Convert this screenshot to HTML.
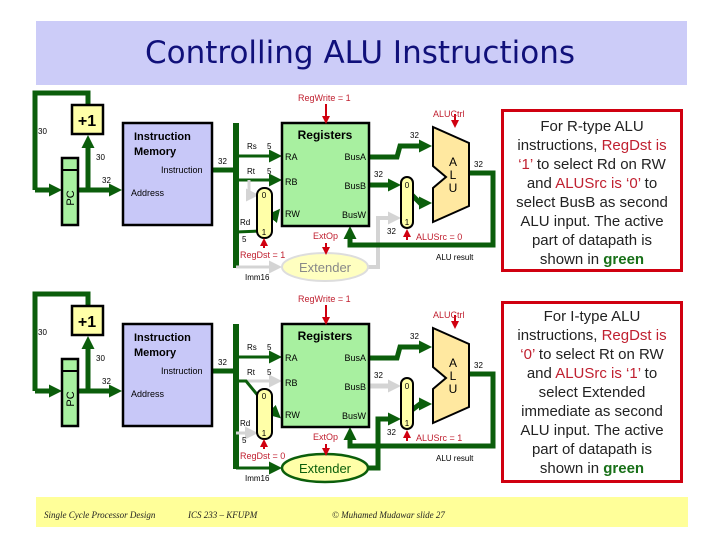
<!DOCTYPE html>
<html><head><meta charset="utf-8"><style>
html,body{margin:0;padding:0;background:#fff;width:720px;height:540px;overflow:hidden}
svg{display:block}
.t{font-family:"Liberation Sans",sans-serif}
.box{position:absolute;border:3px solid #d00010;background:#fff;font-family:"Liberation Sans",sans-serif;font-size:15px;line-height:19px;text-align:center;color:#222;box-sizing:border-box;padding-top:5px;white-space:nowrap}
.r{color:#c02030}.g{color:#187018;font-weight:bold}
</style></head><body>
<svg width="720" height="540" viewBox="0 0 720 540" style="position:absolute;left:0;top:0">
<defs>
<marker id="ag" markerWidth="13" markerHeight="13" refX="5" refY="6.5" orient="auto" markerUnits="userSpaceOnUse"><path d="M0,0 L13,6.5 L0,13 Z" fill="#0b5e0b"/></marker>
<marker id="ay" markerWidth="13" markerHeight="13" refX="5" refY="6.5" orient="auto" markerUnits="userSpaceOnUse"><path d="M0,0 L13,6.5 L0,13 Z" fill="#d4d4d4"/></marker>
<marker id="ar" markerWidth="8" markerHeight="8" refX="3" refY="4" orient="auto" markerUnits="userSpaceOnUse"><path d="M0,0 L8,4 L0,8 Z" fill="#d00010"/></marker>
</defs>
<rect x="36" y="21" width="651" height="64" fill="#ccccf8"/>
<text x="360" y="63" text-anchor="middle" font-family="'Comic Sans MS','DejaVu Sans',sans-serif" font-size="31" fill="#10107a">Controlling ALU Instructions</text>
<rect x="36" y="497" width="652" height="30" fill="#ffff99"/>
<g font-family="'Liberation Serif',serif" font-style="italic" font-size="9" fill="#222">
<text x="44" y="518">Single Cycle Processor Design</text>
<text x="188" y="518">ICS 233 – KFUPM</text>
<text x="332" y="518">© Muhamed Mudawar  slide 27</text>
</g>

<!-- Diagram 1 -->
<g class="t">
<g fill="none" stroke-linejoin="miter">
<path d="M35,190 L35,93 L88,93 L88,105" stroke="#0b5e0b" stroke-width="5"/>
<path d="M35,190 L54,190" stroke="#0b5e0b" stroke-width="5" marker-end="url(#ag)"/>
<path d="M78,190 L114,190" stroke="#0b5e0b" stroke-width="5" marker-end="url(#ag)"/>
<path d="M88,190 L88,143" stroke="#0b5e0b" stroke-width="5" marker-end="url(#ag)"/>
<path d="M212,170 L236,170" stroke="#0b5e0b" stroke-width="5"/>
<path d="M236,123 L236,268" stroke="#0b5e0b" stroke-width="6"/>
<path d="M236,156 L274,156" stroke="#0b5e0b" stroke-width="3" marker-end="url(#ag)"/>
<path d="M236,180 L274,180" stroke="#0b5e0b" stroke-width="3" marker-end="url(#ag)"/>
<path d="M249,180 L249,195 L251,195" stroke="#d4d4d4" stroke-width="3" marker-end="url(#ay)"/>
<path d="M236,267 L274,267" stroke="#d4d4d4" stroke-width="3" marker-end="url(#ay)"/>
<path d="M236,232 L262,231 L275,215" stroke="#0b5e0b" stroke-width="3" marker-end="url(#ag)"/>
<path d="M369,157 L397,157 L400,146 L424,146" stroke="#0b5e0b" stroke-width="5" marker-end="url(#ag)"/>
<path d="M369,185 L393,185" stroke="#0b5e0b" stroke-width="5" marker-end="url(#ag)"/>
<path d="M407,190 L420,203 L424,203" stroke="#0b5e0b" stroke-width="5" marker-end="url(#ag)"/>
<path d="M368,267 L378,267 L378,218 L393,218" stroke="#d4d4d4" stroke-width="4" marker-end="url(#ay)"/>
<path d="M469,173 L493,173 L493,245 L350,245 L350,234" stroke="#0b5e0b" stroke-width="5" marker-end="url(#ag)"/>
</g>
<rect x="72" y="105" width="31" height="29" fill="#ffffa8" stroke="#000" stroke-width="2.5"/>
<text x="87" y="126" text-anchor="middle" font-size="16" font-weight="bold">+1</text>
<rect x="62" y="158" width="16" height="67" fill="#a8f0a0" stroke="#000" stroke-width="2.5"/>
<line x1="62" y1="170" x2="78" y2="170" stroke="#000" stroke-width="2"/>
<text transform="translate(74,198) rotate(-90)" text-anchor="middle" font-size="11">PC</text>
<rect x="123" y="123" width="89" height="102" fill="#c8c8f8" stroke="#000" stroke-width="2.5"/>
<text x="134" y="140" font-size="11" font-weight="bold">Instruction</text>
<text x="134" y="155" font-size="11" font-weight="bold">Memory</text>
<text x="161" y="173" font-size="9">Instruction</text>
<text x="131" y="196" font-size="9">Address</text>
<rect x="282" y="123" width="87" height="103" fill="#a8f0a0" stroke="#000" stroke-width="2.5"/>
<text x="325" y="139" text-anchor="middle" font-size="12" font-weight="bold">Registers</text>
<text x="285" y="160" font-size="9">RA</text><text x="285" y="185" font-size="9">RB</text><text x="285" y="217" font-size="9">RW</text>
<text x="366" y="160" font-size="9" text-anchor="end">BusA</text><text x="366" y="189" font-size="9" text-anchor="end">BusB</text><text x="366" y="218" font-size="9" text-anchor="end">BusW</text>
<rect x="257" y="188" width="15" height="50" rx="7" fill="#ffffa8" stroke="#000" stroke-width="2"/>
<text x="264" y="198" font-size="8" text-anchor="middle">0</text><text x="264" y="235" font-size="8" text-anchor="middle">1</text>
<rect x="401" y="177" width="12" height="51" rx="6" fill="#ffffa8" stroke="#000" stroke-width="2"/>
<text x="407" y="188" font-size="8" text-anchor="middle">0</text><text x="407" y="225" font-size="8" text-anchor="middle">1</text>
<polygon points="433,127 469,143 469,206 433,222 433,188 446,177 433,166" fill="#ffe8a0" stroke="#000" stroke-width="2"/>
<text x="453" y="166" font-size="12" text-anchor="middle">A</text><text x="453" y="179" font-size="12" text-anchor="middle">L</text><text x="453" y="192" font-size="12" text-anchor="middle">U</text>
<ellipse cx="325" cy="267" rx="43" ry="14" fill="#ffffc0" stroke="#ddd" stroke-width="2"/>
<text x="325" y="272" font-size="13" text-anchor="middle" fill="#888">Extender</text>
<g stroke="#d00010" stroke-width="2" fill="none">
<path d="M326,104 L326,119" marker-end="url(#ar)"/>
<path d="M455,114 L455,123" marker-end="url(#ar)"/>
<path d="M407,240 L407,234" marker-end="url(#ar)"/>
<path d="M264,248 L264,243" marker-end="url(#ar)"/>
<path d="M326,243 L326,250" marker-end="url(#ar)"/>
</g>
<g fill="#c02030" font-size="9">
<text x="298" y="101">RegWrite = 1</text>
<text x="433" y="117">ALUCtrl</text>
<text x="416" y="240">ALUSrc = 0</text>
<text x="240" y="258">RegDst = 1</text>
<text x="313" y="239">ExtOp</text>
</g>
<g font-size="8" fill="#000">
<text x="38" y="134">30</text><text x="96" y="160">30</text><text x="102" y="183">32</text><text x="218" y="164">32</text>
<text x="247" y="149">Rs</text><text x="267" y="149">5</text><text x="247" y="174">Rt</text><text x="267" y="174">5</text>
<text x="240" y="225">Rd</text><text x="242" y="242">5</text><text x="245" y="280">Imm16</text>
<text x="410" y="138">32</text><text x="374" y="177">32</text><text x="474" y="167">32</text><text x="387" y="234">32</text>
<text x="436" y="260">ALU result</text>
</g>
</g>

<!-- Diagram 2 -->
<g class="t" transform="translate(0,201)">
<g fill="none">
<path d="M35,190 L35,93 L88,93 L88,105" stroke="#0b5e0b" stroke-width="5"/>
<path d="M35,190 L54,190" stroke="#0b5e0b" stroke-width="5" marker-end="url(#ag)"/>
<path d="M78,190 L114,190" stroke="#0b5e0b" stroke-width="5" marker-end="url(#ag)"/>
<path d="M88,190 L88,143" stroke="#0b5e0b" stroke-width="5" marker-end="url(#ag)"/>
<path d="M212,170 L236,170" stroke="#0b5e0b" stroke-width="5"/>
<path d="M236,123 L236,268" stroke="#0b5e0b" stroke-width="6"/>
<path d="M236,156 L274,156" stroke="#0b5e0b" stroke-width="3" marker-end="url(#ag)"/>
<path d="M246,180 L274,180" stroke="#d4d4d4" stroke-width="3" marker-end="url(#ay)"/>
<path d="M236,180 L246,180 L264,202 L275,212" stroke="#0b5e0b" stroke-width="3" marker-end="url(#ag)"/>
<path d="M236,232 L250,232" stroke="#d4d4d4" stroke-width="3" marker-end="url(#ay)"/>
<path d="M236,267 L274,267" stroke="#0b5e0b" stroke-width="3" marker-end="url(#ag)"/>
<path d="M369,157 L397,157 L400,146 L424,146" stroke="#0b5e0b" stroke-width="5" marker-end="url(#ag)"/>
<path d="M369,185 L393,185" stroke="#d4d4d4" stroke-width="5" marker-end="url(#ay)"/>
<path d="M368,267 L378,267 L378,218 L393,218" stroke="#0b5e0b" stroke-width="5" marker-end="url(#ag)"/>
<path d="M404,215 L420,203 L424,203" stroke="#0b5e0b" stroke-width="5" marker-end="url(#ag)"/>
<path d="M469,173 L493,173 L493,245 L350,245 L350,234" stroke="#0b5e0b" stroke-width="5" marker-end="url(#ag)"/>
</g>
<rect x="72" y="105" width="31" height="29" fill="#ffffa8" stroke="#000" stroke-width="2.5"/>
<text x="87" y="126" text-anchor="middle" font-size="16" font-weight="bold">+1</text>
<rect x="62" y="158" width="16" height="67" fill="#a8f0a0" stroke="#000" stroke-width="2.5"/>
<line x1="62" y1="170" x2="78" y2="170" stroke="#000" stroke-width="2"/>
<text transform="translate(74,198) rotate(-90)" text-anchor="middle" font-size="11">PC</text>
<rect x="123" y="123" width="89" height="102" fill="#c8c8f8" stroke="#000" stroke-width="2.5"/>
<text x="134" y="140" font-size="11" font-weight="bold">Instruction</text>
<text x="134" y="155" font-size="11" font-weight="bold">Memory</text>
<text x="161" y="173" font-size="9">Instruction</text>
<text x="131" y="196" font-size="9">Address</text>
<rect x="282" y="123" width="87" height="103" fill="#a8f0a0" stroke="#000" stroke-width="2.5"/>
<text x="325" y="139" text-anchor="middle" font-size="12" font-weight="bold">Registers</text>
<text x="285" y="160" font-size="9">RA</text><text x="285" y="185" font-size="9">RB</text><text x="285" y="217" font-size="9">RW</text>
<text x="366" y="160" font-size="9" text-anchor="end">BusA</text><text x="366" y="189" font-size="9" text-anchor="end">BusB</text><text x="366" y="218" font-size="9" text-anchor="end">BusW</text>
<rect x="257" y="188" width="15" height="50" rx="7" fill="#ffffa8" stroke="#000" stroke-width="2"/>
<text x="264" y="198" font-size="8" text-anchor="middle">0</text><text x="264" y="235" font-size="8" text-anchor="middle">1</text>
<rect x="401" y="177" width="12" height="51" rx="6" fill="#ffffa8" stroke="#000" stroke-width="2"/>
<text x="407" y="188" font-size="8" text-anchor="middle">0</text><text x="407" y="225" font-size="8" text-anchor="middle">1</text>
<polygon points="433,127 469,143 469,206 433,222 433,188 446,177 433,166" fill="#ffe8a0" stroke="#000" stroke-width="2"/>
<text x="453" y="166" font-size="12" text-anchor="middle">A</text><text x="453" y="179" font-size="12" text-anchor="middle">L</text><text x="453" y="192" font-size="12" text-anchor="middle">U</text>
<ellipse cx="325" cy="267" rx="43" ry="14" fill="#ffffa8" stroke="#0b5e0b" stroke-width="2.5"/>
<text x="325" y="272" font-size="13" text-anchor="middle" fill="#0b5e0b">Extender</text>
<g stroke="#d00010" stroke-width="2" fill="none">
<path d="M326,104 L326,119" marker-end="url(#ar)"/>
<path d="M455,114 L455,123" marker-end="url(#ar)"/>
<path d="M407,240 L407,234" marker-end="url(#ar)"/>
<path d="M264,248 L264,243" marker-end="url(#ar)"/>
<path d="M326,243 L326,250" marker-end="url(#ar)"/>
</g>
<g fill="#c02030" font-size="9">
<text x="298" y="101">RegWrite = 1</text>
<text x="433" y="117">ALUCtrl</text>
<text x="416" y="240">ALUSrc = 1</text>
<text x="240" y="258">RegDst = 0</text>
<text x="313" y="239">ExtOp</text>
</g>
<g font-size="8" fill="#000">
<text x="38" y="134">30</text><text x="96" y="160">30</text><text x="102" y="183">32</text><text x="218" y="164">32</text>
<text x="247" y="149">Rs</text><text x="267" y="149">5</text><text x="247" y="174">Rt</text><text x="267" y="174">5</text>
<text x="240" y="225">Rd</text><text x="242" y="242">5</text><text x="245" y="280">Imm16</text>
<text x="410" y="138">32</text><text x="374" y="177">32</text><text x="474" y="167">32</text><text x="387" y="234">32</text>
<text x="436" y="260">ALU result</text>
</g>
</g>
</svg>
<div class="box" style="left:501px;top:109px;width:182px;height:163px">For R-type ALU<br>instructions, <span class="r">RegDst is</span><br><span class="r">‘1’</span> to select Rd on RW<br>and <span class="r">ALUSrc is ‘0’</span> to<br>select BusB as second<br>ALU input. The active<br>part of datapath is<br>shown in <span class="g">green</span></div>
<div class="box" style="left:501px;top:301px;width:182px;height:182px;padding-top:3px">For I-type ALU<br>instructions, <span class="r">RegDst is</span><br><span class="r">‘0’</span> to select Rt on RW<br>and <span class="r">ALUSrc is ‘1’</span> to<br>select Extended<br>immediate as second<br>ALU input. The active<br>part of datapath is<br>shown in <span class="g">green</span></div>
</body></html>
